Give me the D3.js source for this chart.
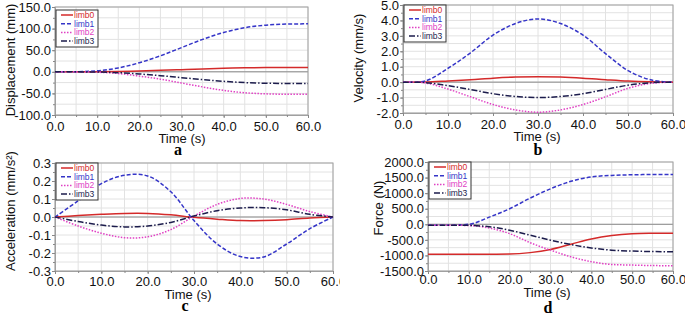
<!DOCTYPE html>
<html>
<head>
<meta charset="utf-8">
<script src="https://cdn.jsdelivr.net/npm/d3@7"></script>
<style>
  body { margin: 0; background: #fff; }
  svg { display: block; font-family: "Liberation Sans", Arial, sans-serif; }
  .tick text { fill: #111; }
</style>
</head>
<body>
<script>
// time samples (s)
const time = [0, 5, 10, 15, 20, 25, 30, 35, 40, 45, 50, 55, 60];
const seriesNames = ["limb0", "limb1", "limb2", "limb3"];

// a: displacement (mm)
const dispLimb0 = [0, 0, 0.2, 0.8, 1.9, 3.3, 5, 6.7, 8.1, 9.2, 9.8, 10, 10];
const dispLimb1 = [0, 0.3, 2.2, 9, 21, 37, 56, 75, 91, 102, 108, 110.5, 111];
const dispLimb2 = [0, -0.2, -1, -4, -10, -17, -26, -35, -43, -48.5, -51, -52, -52];
const dispLimb3 = [0, -0.1, -0.5, -2, -5, -9, -13.5, -18, -22, -25, -26.5, -27, -27];

// b: velocity (mm/s)
const velLimb0 = [0, 0.01, 0.08, 0.16, 0.26, 0.33, 0.35, 0.33, 0.26, 0.16, 0.07, 0.02, 0];
const velLimb1 = [0, 0.08, 0.9, 1.9, 3.05, 3.8, 4.1, 3.8, 3.05, 1.85, 0.75, 0.15, 0];
const velLimb2 = [0, -0.05, -0.45, -0.95, -1.45, -1.8, -1.95, -1.8, -1.45, -0.95, -0.4, -0.08, 0];
const velLimb3 = [0, -0.03, -0.23, -0.48, -0.75, -0.93, -1.0, -0.93, -0.75, -0.47, -0.2, -0.04, 0];

// c: acceleration (mm/s^2)
const accLimb0 = [0, 0.008, 0.015, 0.02, 0.02, 0.012, -0.002, -0.012, -0.02, -0.02, -0.015, -0.005, 0];
const accLimb1 = [0, 0.09, 0.185, 0.232, 0.228, 0.14, -0.02, -0.15, -0.22, -0.222, -0.15, -0.065, 0];
const accLimb2 = [0, -0.05, -0.09, -0.115, -0.11, -0.07, 0.005, 0.07, 0.103, 0.1, 0.07, 0.03, 0];
const accLimb3 = [0, -0.025, -0.045, -0.055, -0.05, -0.03, 0.005, 0.035, 0.05, 0.052, 0.04, 0.015, 0];

// d: force (N)
const forceLimb0 = [-960, -960, -960, -960, -955, -910, -810, -640, -470, -360, -305, -290, -285];
const forceLimb1 = [-30, -30, 0, 230, 500, 840, 1140, 1380, 1520, 1570, 1590, 1598, 1600];
const forceLimb2 = [-30, -30, -40, -120, -300, -590, -830, -1045, -1200, -1290, -1310, -1325, -1330];
const forceLimb3 = [-30, -30, -35, -80, -190, -350, -510, -650, -760, -830, -860, -875, -885];

// y ticks
const dispTicks = [-100, -50, 0, 50, 100, 150];
const velTicks = [-2, -1, 0, 1, 2, 3, 4, 5];
const accTicks = [-0.3, -0.2, -0.1, 0, 0.1, 0.2, 0.3];
const forceTicks = [-1500, -1000, -500, 0, 500, 1000, 1500, 2000];
const timeTicks = [0, 10, 20, 30, 40, 50, 60];

const colors = ["#d42a2a", "#3535c8", "#e040c4", "#1c1c4c"];
const dashes = [null, "4,2", "1.5,1.5", "6,2,1.5,2"];

const fmt = v => d3.format(".1f")(v).replace("\u2212", "-");

const svg = d3.select("body").append("svg")
    .attr("width", 685)
    .attr("height", 316);

svg.append("defs").append("clipPath").attr("id", "clipC")
    .append("rect").attr("x", 0).attr("y", 150).attr("width", 340).attr("height", 166);

function drawPanel(cfg) {
    let g = svg.append("g");
    if (cfg.clip) g.attr("clip-path", "url(#" + cfg.clip + ")");
    let [x0, x1, y0, y1] = cfg.box;

    let x = d3.scaleLinear().domain([0, 60]).range([x0, x1]);
    let y = d3.scaleLinear().domain(d3.extent(cfg.ticks)).range([y1, y0]);

    // grid
    let minorY = d3.range(cfg.ticks[0], cfg.ticks[cfg.ticks.length - 1] + cfg.minor / 2, cfg.minor);
    let minorX = d3.range(0, 60.1, 5);
    g.append("g").selectAll("line").data(minorY).enter().append("line")
        .attr("x1", x0).attr("x2", x1)
        .attr("y1", d => y(d)).attr("y2", d => y(d))
        .attr("stroke", "#e2e2e2");
    g.append("g").selectAll("line").data(minorX).enter().append("line")
        .attr("x1", d => x(d)).attr("x2", d => x(d))
        .attr("y1", y0).attr("y2", y1)
        .attr("stroke", "#e2e2e2");

    g.append("line")
        .attr("x1", x0).attr("x2", x1).attr("y1", y(0)).attr("y2", y(0))
        .attr("stroke", "#8a8a8a");

    g.append("rect")
        .attr("x", x0).attr("y", y0).attr("width", x1 - x0).attr("height", y1 - y0)
        .attr("fill", "none").attr("stroke", "#a0a0a0");

    // axes
    let yAxis = g.append("g")
        .attr("transform", "translate(" + x0 + ",0)")
        .call(d3.axisLeft(y).tickValues(cfg.ticks).tickFormat(fmt).tickSize(3).tickPadding(1));
    let yMinorAxis = g.append("g")
        .attr("transform", "translate(" + x0 + ",0)")
        .call(d3.axisLeft(y).tickValues(minorY).tickFormat("").tickSize(2));
    let xAxis = g.append("g")
        .attr("transform", "translate(0," + y1 + ")")
        .call(d3.axisBottom(x).tickValues(timeTicks).tickFormat(fmt).tickSize(3).tickPadding(cfg.xPad));
    let xMinorAxis = g.append("g")
        .attr("transform", "translate(0," + y1 + ")")
        .call(d3.axisBottom(x).tickValues(minorX).tickFormat("").tickSize(2));
    [yAxis, yMinorAxis, xAxis, xMinorAxis].forEach(a => {
        a.select(".domain").attr("stroke", "#a0a0a0");
        a.selectAll(".tick line").attr("stroke", "#888");
        a.selectAll("text").style("font-size", "13px");
    });

    // lines
    let line = d3.line().curve(cfg.curve);
    cfg.series.forEach((vals, i) => {
        g.append("path")
            .datum(time.map((t, k) => [x(t), y(vals[k])]))
            .attr("d", line)
            .attr("fill", "none")
            .attr("stroke", colors[i])
            .attr("stroke-width", 1.5)
            .attr("stroke-dasharray", dashes[i]);
    });

    // legend
    let lx = x0 + 1, ly = y0 + cfg.legendTop;
    let legend = g.append("g").attr("transform", "translate(" + lx + "," + ly + ")");
    legend.append("rect")
        .attr("width", 42).attr("height", 37)
        .attr("fill", "#fff").attr("stroke", "#333").attr("stroke-width", 1);
    seriesNames.forEach((name, i) => {
        let yy = 5 + i * 8.7;
        legend.append("line")
            .attr("x1", 5).attr("x2", 17).attr("y1", yy).attr("y2", yy)
            .attr("stroke", colors[i]).attr("stroke-width", 1.5)
            .attr("stroke-dasharray", dashes[i]);
        legend.append("text")
            .attr("x", 18).attr("y", yy).attr("dy", "0.35em")
            .style("font-size", "8.5px")
            .attr("fill", colors[i])
            .text(name);
    });

    // labels
    g.append("text")
        .attr("transform", "translate(" + cfg.yLabelX + "," + cfg.yLabelY + ") rotate(-90)")
        .attr("text-anchor", "middle").attr("dy", "0.35em")
        .style("font-size", "13px").attr("fill", "#111")
        .text(cfg.yLabel);
    g.append("text")
        .attr("x", cfg.timeX).attr("y", cfg.timeY)
        .attr("text-anchor", "middle").attr("dy", "0.35em")
        .style("font-size", "13px").attr("fill", "#111")
        .text("Time (s)");
    svg.append("text")
        .attr("x", cfg.letterX).attr("y", cfg.letterY)
        .attr("text-anchor", "middle")
        .style("font-family", "'Liberation Serif', 'Times New Roman', serif")
        .style("font-weight", "bold").style("font-size", "16px")
        .text(cfg.letter);
}

drawPanel({
    box: [55, 308, 7, 115], ticks: dispTicks, minor: 25, curve: d3.curveMonotoneX, xPad: 4,
    series: [dispLimb0, dispLimb1, dispLimb2, dispLimb3],
    yLabel: "Displacement (mm)", yLabelX: 10, yLabelY: 60,
    timeX: 182, timeY: 138, letter: "a", letterX: 178, letterY: 155, legendTop: 3
});
drawPanel({
    box: [403, 673, 5, 113], ticks: velTicks, minor: 0.5, curve: d3.curveCatmullRom, xPad: 4,
    series: [velLimb0, velLimb1, velLimb2, velLimb3],
    yLabel: "Velocity (mm/s)", yLabelX: 358, yLabelY: 58,
    timeX: 537, timeY: 136, letter: "b", letterX: 538, letterY: 155, legendTop: 0
});
drawPanel({
    box: [55, 333, 163, 271], ticks: accTicks, minor: 0.05, curve: d3.curveCatmullRom, xPad: 3,
    series: [accLimb0, accLimb1, accLimb2, accLimb3],
    yLabel: "Acceleration (mm/s\u00b2)", yLabelX: 10, yLabelY: 211,
    timeX: 188, timeY: 294, letter: "c", letterX: 185, letterY: 311, legendTop: 0,
    clip: "clipC"
});
drawPanel({
    box: [428, 673, 162, 271], ticks: forceTicks, minor: 250, curve: d3.curveMonotoneX, xPad: 1,
    series: [forceLimb0, forceLimb1, forceLimb2, forceLimb3],
    yLabel: "Force (N)", yLabelX: 378, yLabelY: 208,
    timeX: 547, timeY: 292, letter: "d", letterX: 548, letterY: 313, legendTop: 0
});
</script>
</body>
</html>
